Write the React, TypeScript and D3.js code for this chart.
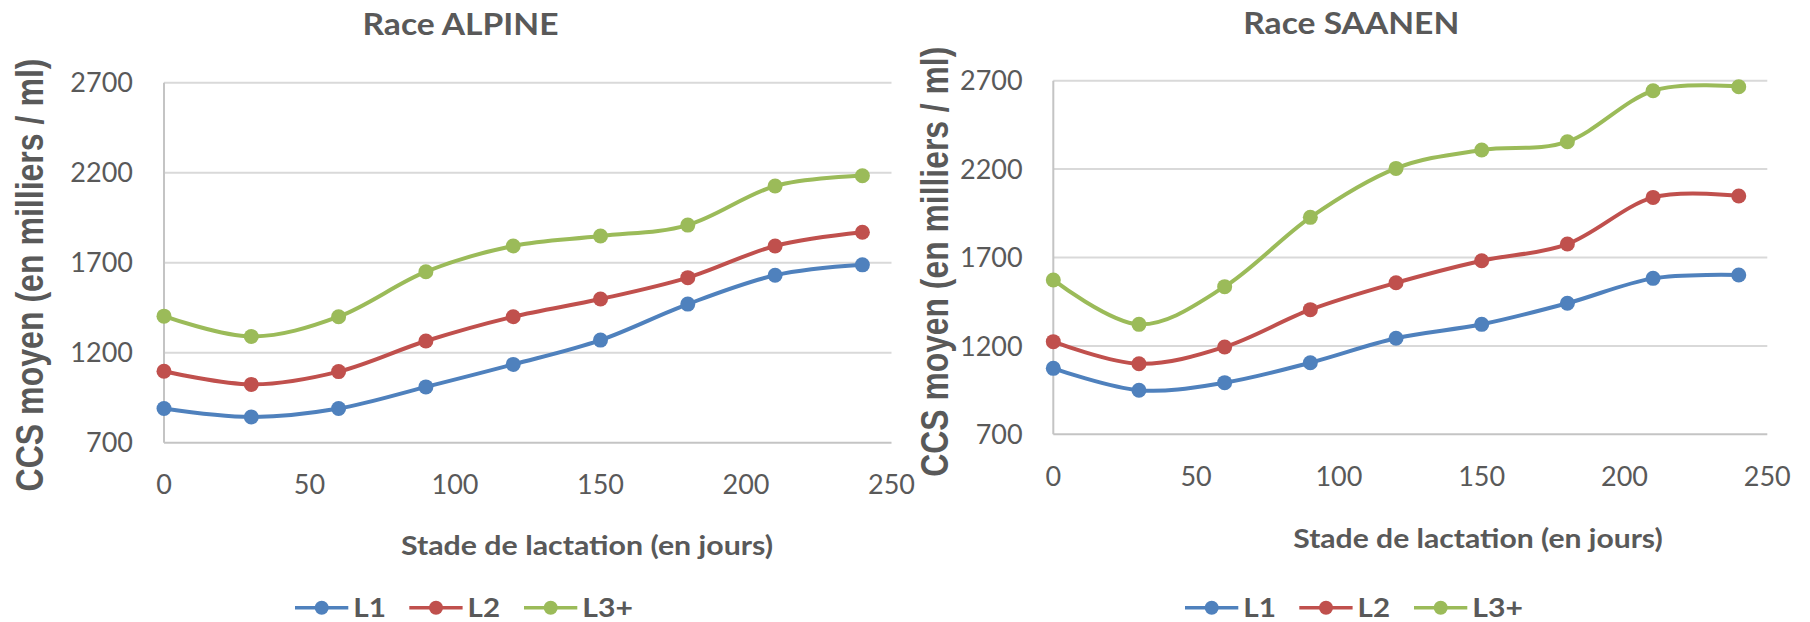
import React from 'react';
import * as d3 from 'd3';

// ---- Data ----
const days = [0, 30, 60, 90, 120, 150, 180, 210, 240];
const alpineL1 = [890, 843, 890, 1010, 1135, 1270, 1470, 1630, 1688];
const alpineL2 = [1097, 1024, 1095, 1265, 1400, 1498, 1617, 1793, 1869];
const alpineL3 = [1403, 1290, 1400, 1650, 1793, 1848, 1909, 2126, 2183];
const saanenL1 = [1073, 949, 992, 1105, 1243, 1322, 1441, 1582, 1601];
const saanenL2 = [1224, 1099, 1194, 1405, 1557, 1682, 1776, 2040, 2048];
const saanenL3 = [1573, 1322, 1535, 1927, 2204, 2308, 2355, 2643, 2666];
const seriesNames = ['L1', 'L2', 'L3+'];
const seriesColors = ['#4F81BD', '#C0504D', '#9BBB59'];
const yTicks = [700, 1200, 1700, 2200, 2700];
const xTicks = [0, 50, 100, 150, 200, 250];
const xTitle = 'Stade de lactation (en jours)';
const yTitle = 'CCS moyen (en milliers / ml)';
const titles = ['Race ALPINE', 'Race SAANEN'];

const TEXT = '#595959';
const GRID = '#D9D9D9';
const AXIS = '#C4C4C4';

type Layout = {
  x0: number; x1: number; yTop: number; yBot: number;
  titleX: number; titleBase: number; titleLen: number;
  yLabX: number; yLabY: number; yLabLen: number;
  yTickRight: number; xTickBase: number;
  xTitleX: number; xTitleBase: number; xTitleLen: number;
  legendX: number; legendBase: number;
};

const layouts: Layout[] = [
  {
    x0: 164, x1: 891.5, yTop: 82.7, yBot: 442.7,
    titleX: 460.5, titleBase: 35, titleLen: 196,
    yLabX: 43.3, yLabY: 275, yLabLen: 433,
    yTickRight: 133, xTickBase: 494,
    xTitleX: 587, xTitleBase: 555, xTitleLen: 372,
    legendX: 295, legendBase: 617,
  },
  {
    x0: 1053.3, x1: 1767.3, yTop: 80.7, yBot: 434.3,
    titleX: 1351.3, titleBase: 33.7, titleLen: 216,
    yLabX: 948.3, yLabY: 261.7, yLabLen: 430,
    yTickRight: 1022.7, xTickBase: 486.3,
    xTitleX: 1478, xTitleBase: 548, xTitleLen: 369.4,
    legendX: 1185, legendBase: 617,
  },
];

const legendOffsets = [0, 114.3, 229];
const legendTextLens = [32.7, 32.4, 50.6];

function Panel({ L, title, series }: { L: Layout; title: string; series: number[][] }) {
  const x = d3.scaleLinear().domain([0, 250]).range([L.x0, L.x1]);
  const y = d3.scaleLinear().domain([700, 2700]).range([L.yBot, L.yTop]);
  const line = d3
    .line<number>()
    .x((_, i) => x(days[i]))
    .y((d) => y(d))
    .curve(d3.curveCardinal.tension(0));

  return (
    <g>
      <text x={L.titleX} y={L.titleBase} textAnchor="middle" fontFamily="Lato, sans-serif" fontWeight="bold"
        fontSize={30} fill={TEXT} textLength={L.titleLen} lengthAdjust="spacingAndGlyphs">{title}</text>

      {yTicks.slice(1).map((t) => (
        <line key={'g' + t} x1={L.x0} x2={L.x1} y1={y(t)} y2={y(t)} stroke={GRID} strokeWidth={2} />
      ))}
      <line x1={L.x0} x2={L.x1} y1={y(700)} y2={y(700)} stroke={AXIS} strokeWidth={2} />
      <line x1={L.x0} x2={L.x0} y1={y(700)} y2={y(2700)} stroke={AXIS} strokeWidth={2} />

      {yTicks.map((t) => (
        <text key={'yt' + t} x={L.yTickRight} y={y(t) + 9.7} textAnchor="end" fontFamily="Lato, sans-serif"
          fontSize={27} fill={TEXT}>{t}</text>
      ))}
      {xTicks.map((t) => (
        <text key={'xt' + t} x={x(t)} y={L.xTickBase} textAnchor="middle" fontFamily="Lato, sans-serif"
          fontSize={27} fill={TEXT}>{t}</text>
      ))}

      <text x={L.xTitleX} y={L.xTitleBase} textAnchor="middle" fontFamily="Lato, sans-serif" fontWeight="bold"
        fontSize={27} fill={TEXT} textLength={L.xTitleLen} lengthAdjust="spacingAndGlyphs">{xTitle}</text>

      <text transform={`translate(${L.yLabX},${L.yLabY}) rotate(-90) scale(1,1.2)`} textAnchor="middle"
        fontFamily="'Liberation Sans', Arial, sans-serif" fontWeight="bold" fontSize={33} fill={TEXT}
        textLength={L.yLabLen} lengthAdjust="spacingAndGlyphs">{yTitle}</text>

      {series.map((s, si) => (
        <g key={'s' + si}>
          <path d={line(s) || ''} fill="none" stroke={seriesColors[si]} strokeWidth={4} strokeLinecap="round" />
          {s.map((v, i) => (
            <circle key={i} cx={x(days[i])} cy={y(v)} r={7.5} fill={seriesColors[si]} />
          ))}
        </g>
      ))}

      {seriesNames.map((n, i) => {
        const lx = L.legendX + legendOffsets[i];
        const cy = L.legendBase - 9.3;
        return (
          <g key={'l' + n}>
            <line x1={lx} x2={lx + 53.3} y1={cy} y2={cy} stroke={seriesColors[i]} strokeWidth={3.5} />
            <circle cx={lx + 26.7} cy={cy} r={7} fill={seriesColors[i]} />
            <text x={lx + 58.3} y={L.legendBase} fontFamily="Lato, sans-serif" fontWeight="bold" fontSize={26}
              fill={TEXT} textLength={legendTextLens[i]} lengthAdjust="spacingAndGlyphs">{n}</text>
          </g>
        );
      })}
    </g>
  );
}

export default function App() {
  return (
    <svg width={1810} height={622} style={{ position: 'absolute', left: 0, top: 0, display: 'block', background: '#fff' }}>
      <rect width={1810} height={622} fill="#fff" />
      <Panel L={layouts[0]} title={titles[0]} series={[alpineL1, alpineL2, alpineL3]} />
      <Panel L={layouts[1]} title={titles[1]} series={[saanenL1, saanenL2, saanenL3]} />
    </svg>
  );
}
